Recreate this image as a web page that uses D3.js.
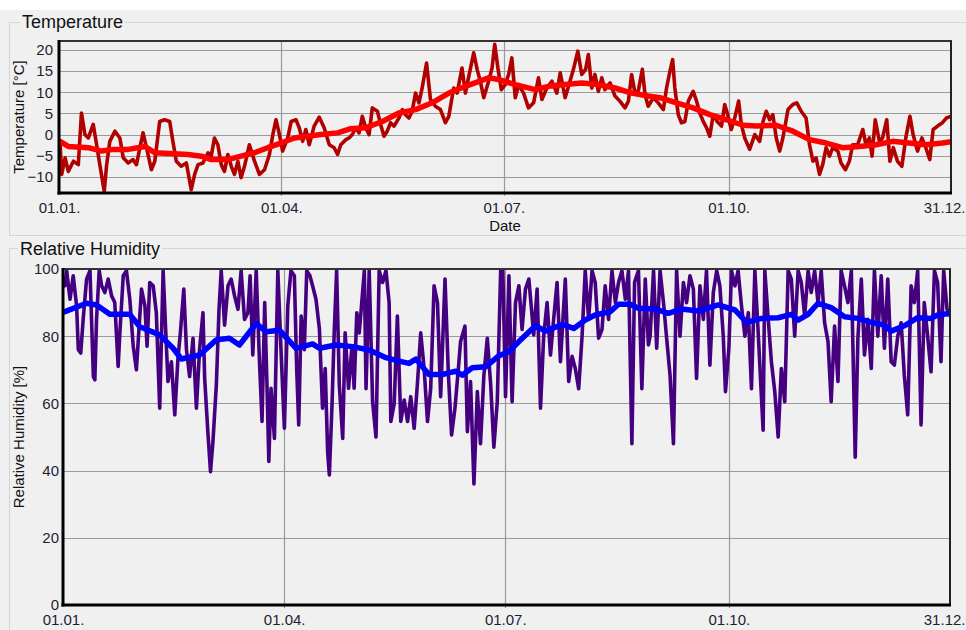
<!DOCTYPE html>
<html>
<head>
<meta charset="utf-8">
<script src="https://cdnjs.cloudflare.com/ajax/libs/d3/7.8.5/d3.min.js"></script>
<style>
    html, body { margin: 0; padding: 0; background: #ffffff; }
    #chart { width: 966px; height: 630px; }
    text { font-family: "Liberation Sans", Arial, sans-serif; }
</style>
</head>
<body>
<div id="chart"></div>
<script>
// climate-viz - temperature and relative humidity over one year (day of year, leap year)

// x axis: day of year where the date labels sit
const xTickDays = [0, 91, 182, 274, 365];
const xTickLabels = ['01.01.', '01.04.', '01.07.', '01.10.', '31.12.'];

const tempTicks = [-10, -5, 0, 5, 10, 15, 20];
const rhTicks = [0, 20, 40, 60, 80, 100];

// measured temperature [day, °C]
const tempRaw = [
    [0.4,-1.6],[1.1,-9.4],[2.5,-5.5],[3.8,-8.7],[5.9,-6.3],[7.9,-7.1],[9.2,5.1],[10.6,0],[12,-0.8],[14,2.4],
    [15.4,-2.4],[16.7,-7.1],[18.5,-13.4],[19.5,-7.1],[20.8,-1.6],[22.9,0.8],[24.9,-0.8],[26.3,-5.5],[28.3,-6.7],[30.3,-5.9],
    [31.7,-7.1],[33.1,-3.1],[34.4,0.4],[35.8,-3.1],[37.8,-8.3],[39.2,-6.3],[41.2,3.1],[43.2,3.5],[45.3,3.1],[46.6,-1.6],
    [48,-6.3],[50,-7.5],[52.1,-6.7],[54.1,-13],[55.5,-9.4],[56.9,-7.1],[58.9,-6.7],[61,-4.3],[62.3,-5.1],[63.6,-0.8],
    [65,-2.4],[66.4,-7.1],[67.7,-8.7],[69.1,-4.7],[70.5,-7.5],[71.8,-9.4],[73.2,-6.3],[74.5,-10.2],[75.9,-7.5],[77.9,-2.4],
    [80,-6.3],[82,-9.4],[84.1,-8.3],[86.1,-4.7],[87.5,0],[88.8,3.5],[90.2,0],[91.5,-3.9],[93.6,-0.8],[95,3.1],
    [97,3.5],[98.3,1.6],[99.7,-1.6],[101,1.2],[102.4,-2.4],[104.4,2],[106.5,4.1],[108.5,1.6],[110.6,-2.4],[112.6,-3.1],
    [114,-4.7],[115.3,-2.4],[117.4,-1.2],
    [118.7,-0.8],[120,0],[121.4,1.6],[122.8,0.4],[124.1,4.3],[125.5,1.6],[126.9,0],[128.2,6.3],[130.3,5.5],[131.6,2.4],
    [133,-0.4],[134.3,0.8],[135.7,2.8],[137.1,2],[139.1,3.9],[140.5,5.9],[141.8,4.7],[143.2,3.9],[144.5,5.5],[145.9,9.8],
    [147.3,7.5],[148.6,11],[150.4,16.9],[152,8.3],[154,6.7],[156.1,5.9],[158.1,2.8],[159.5,4.3],[161.5,11],[162.9,9.8],
    [164.9,15.7],[166.3,9.8],[167.7,13.8],[169.7,19.3],[171.1,15.4],[172.4,12.6],[173.8,8.7],[175.8,12.6],[177.2,15.7],[178.3,21.3],
    [179.6,15.7],[181,10.6],[182.6,11.8],[184,14.2],[185.3,18.1],[186.7,8.7],[188.1,11.8],[190.1,9.8],[192.1,6.3],[194.2,7.5],
    [196.2,13.4],[197.6,8.3],[199.6,11],[201.7,12.6],[203.7,9.8],[205.1,14.6],[207.1,8.7],[209.1,12.6],[210.5,15.4],[212.3,19.7],
    [213.9,14.2],[215.5,15.4],[216.6,18.9],[218,11],[219.3,14.2],[220.7,10.2],[222.1,13.4],[223.4,10.6],[225.5,12.2],[227.5,9.1],
    [229.5,7.9],[231.6,6.3],[233,7.9],[234.3,14.2],[235.7,9.8],[237,10.2],[238.7,15.4],
    [239.8,9.4],[241.1,6.7],[243.2,8.7],[245.2,7.5],[247.3,5.9],[248.6,11],[250,15],[251.1,17.7],[252,11],[253.4,4.7],
    [254.7,2.8],[256.1,3.1],[257.5,7.9],[259.5,10.2],[260.9,7.9],[262.2,5.1],[263.6,3.1],[265,1.6],[266.3,-0.4],[267.7,4.7],
    [269.3,3.1],[271.1,2],[272.4,7.1],[273.8,4.3],[275.1,1.2],[276.5,3.9],[278.1,7.9],[279.2,2.4],[280.6,-0.8],[282.6,-3.5],
    [284.7,0],[286.7,-1.6],[288.1,3.1],[289.4,5.5],[290.8,3.5],[292.1,4.7],[293.5,-0.8],[294.9,-3.9],[296.2,-0.8],[298.3,5.9],
    [300.3,7.1],[301.9,7.5],[303.7,5.5],[305.7,3.9],[307.1,-2.4],[308.5,-6.3],[309.8,-5.5],[311.2,-9.4],[312.5,-7.1],[313.9,-3.1],
    [315.3,-5.1],[316.6,-3.1],[318.7,-3.9],[320,-6.7],[321.8,-8.3],[323.4,-6.3],[324.8,-2.4],[326.8,-2.4],[328.9,1.2],[330.2,-2.4],
    [331.6,-0.8],[332.7,-5.1],[334,3.5],[335.7,-1.6],[337,-0.8],[338.7,3.5],[340,-6.3],[341.4,-3.1],[343.1,-6.3],[344.9,-7.5],
    [346.5,-0.8],[348.2,4.3],[349.5,0],[351.3,-3.9],[353.1,-0.8],[354.7,-3.1],[356.3,-5.9],[357.7,1.2],[359.5,2],[361.5,2.8],
    [363.1,3.9],[365,4.3]
];

// smoothed temperature [day, °C]
const tempSmooth = [
    [0.4,-1.6],[3.8,-2.8],[12,-3.1],[17.4,-3.9],[22.2,-3.5],[28.3,-3.5],[35.1,-2.8],[39.2,-4.3],[52.8,-4.7],[58.2,-5.1],
    [62.3,-5.9],[69.1,-5.9],[74.5,-5.1],[80,-4.3],[85.4,-3.1],[90.8,-2],[96.3,-0.8],[101.7,-0.4],[107.2,0],[114,0.4],
    [119.4,1.4],[125.5,1.6],[132.3,3.1],[139.1,5.1],[145.9,5.9],[152.7,7.5],[159.5,9.8],[166.3,11.4],[175.8,13.4],[179.9,13],
    [186.7,11.8],[194.9,10.6],[200.3,11.4],[207.1,11.8],[213.9,12.2],[220.7,11.8],[227.5,11],[234.3,9.8],[241.1,9.1],[245.9,8.7],
    [252.7,7.5],[259.5,6.3],[266.3,4.7],[273.1,3.5],[279.9,2.2],[285.3,2],[293.5,2.2],[300.3,0.8],[307.1,-1.2],[313.9,-2],
    [320.7,-3.1],[327.5,-2.8],[334.3,-2.4],[341.1,-1.6],[347.9,-2],[354.7,-2.4],[361.5,-2],[365,-1.7]
];

// measured relative humidity [day, %]
const rhRaw = [
    [0,96],[0.8,95],[1.5,99.5],[2.9,91],[4.2,98],[5.6,89],[6.3,76],[7.3,75],[8.3,85],[9.7,97],
    [11.1,99.5],[12.5,68],[13.1,67],[13.8,85],[14.9,99.5],[15.9,95],[17.2,93],[18.6,97],[20,92],[21.3,90],
    [22.7,71],[23.4,81],[24.8,98],[26.1,99.5],[27.5,91],[28.9,77],[30.2,70],[31.6,86],[32.3,94],[33.7,89],
    [34.6,77],[35.7,96],[37.1,95],[38.4,87],[39.8,58.6],[41.2,99.5],[42.3,81],[43.2,66.5],[44.6,72.4],[46,56.6],
    [47.3,73.4],[48.3,81],[49.7,94],[50.8,76],[52.1,68],[53.5,79.4],[54.9,58.6],[56.2,76],[57.6,87],[58.3,67.4],
    [59.6,51.6],[60.7,39.7],[61.7,48.6],[63.1,65.5],[64.2,88],[65.1,99.5],[66.5,83.3],[67.9,95],[69.2,97],[70.6,92],
    [72,88],[73.3,99.5],[74.7,85],[76.1,87],[77,98],[78.1,74.4],[79.5,99.5],[80.8,73.4],[81.9,54.6],[83,90],
    [83.9,66.5],[84.7,42.7],[85.6,64.5],[87,49.6],[88.4,99.5],[89.7,76],[91.1,52.6],[92.5,89],[93.8,99.5],[95.2,98],
    [96.2,69.4],[97,53.6],[98,86],[99.3,76],[100.3,99.5],[101.6,98],[102.7,95],[104.1,91],[105.5,82.3],[106.8,58.6],
    [107.9,70.4],[108.9,45.6],[109.6,38.7],[110.7,59.6],[111.6,81],[112.6,99.5],[113.7,65.5],[115.1,49.6],[116.1,81],[117.5,64.5],
    [118.9,77],[119.8,64.5],[120.9,87],[121.9,81],
    [122.6,87],[124,99.5],[124.7,64.4],[126,99.5],[127.4,60.5],[128.8,50],[130.1,99.5],[131.5,96],[132.9,99.5],[134.2,90],
    [134.9,54.6],[136.3,60],[137.6,86],[139,54.6],[140.4,61],[141.8,54.6],[143.1,62],[144.5,52.6],[145.9,66.5],[147.2,81],
    [148.6,70.4],[150,54.6],[151.3,64.4],[152.7,95],[154.1,90],[155.4,62],[157.2,97],[158.6,68.4],[159.9,50.6],[161.3,58.6],
    [162.7,70.4],[163.6,78.4],[165.4,83],[166.4,51.6],[167.7,66.5],[169.1,36],[170.5,63.5],[171.8,48],[173.2,68.4],[174.6,79.4],
    [176,65.5],[177.3,47],[178.7,60.5],[180.1,99.5],[181,99.5],[182.1,62],[183.5,98],[184.8,60.5],[186.2,90],[187.6,95],
    [188.9,82],[190.3,94],[191.7,97],[193.7,80.4],[195.1,94],[196.5,58.6],[197.8,80],[199.2,90],[200.6,74.4],[201.9,85],
    [203.3,96],[204.7,72.4],[206.7,97],[208.1,66.5],[209.5,74],[210.8,70.4],[212.2,64.4],[213.6,80],[214.9,99.5],[216.3,85],
    [217.7,99.5],[219,96],[220.4,79.4],[221.8,82],[223.1,95],[224.5,85],[225.9,99.5],[227.3,90],[228.6,96],[230,99.5],
    [231.4,91],[232.7,99.5],[234.1,48],[235.2,96],[236.8,99.5],[238.2,64.4],[239.6,97],[240.9,77.4],
    [241.6,80],[243,99.5],[244.3,76.4],[245.7,99.5],[247.1,90],[248.4,79.4],[249.8,68.4],[251.2,48],[252.5,99.5],[253.9,80],
    [255.3,96],[256.6,90],[258,98],[259.4,94],[260.7,67.4],[262.1,95],[263.5,85],[264.8,99.5],[266.2,71.4],[267.6,93],
    [269,99.5],[270.3,95],[271.7,80],[272.6,63.5],[274,76.4],[275.1,99.5],[276.5,95],[277.8,99.5],[279.2,89],[280.6,80],
    [282,87],[283.3,64.4],[284.7,99.5],[286,82],[288.1,52],[288.8,99.5],[290.2,85],[291.5,72.4],[292.9,63.5],[294.3,50],
    [295.6,70.4],[297,60.5],[298.4,99.5],[299.7,97],[301.1,80],[302.5,99.5],[303.8,96],[305.2,86],[306.6,99.5],[307.9,93],
    [309.3,99.5],[310.7,90],[312,99.5],[313.4,84],[314.8,78.4],[316.1,60.5],[317.5,83],[318.9,66.5],[320.2,99.5],[321.6,95],
    [323,90],[324.4,99.5],[326,44],[327.1,79.4],[328.5,97],[329.8,74.4],[331.2,85],[332.6,70.4],[333.9,99.5],[335.3,80],
    [336.7,98],[338,76.4],[339.4,97],[340.8,72.4],[342.1,71.4],[343.5,80],[344.9,84],[346.2,68.4],[347.6,56.6],[349,95],
    [350.3,90],[351.7,99.5],[353.1,53.6],[354.4,90],[355.8,80],[357.2,69.4],[358.6,99.5],[359.9,96],[361.3,72.4],[362.4,99.5],
    [363.8,88],[365,86]
];

// smoothed relative humidity [day, %]
const rhSmooth = [
    [0.8,87.3],[9.7,89.8],[13.8,89.3],[19.3,86.5],[27.5,86.5],[31.6,82.8],[39.8,80.4],[45.3,76.4],[48.7,73.2],[56.2,74.4],
    [63.1,78.9],[68.5,79.4],[72.6,77.4],[79.5,83.8],[83.6,81.3],[89.1,81.8],[95.9,76.4],[102.7,77.7],[105.5,76.4],[112.3,77.4],
    [119.2,76.9],[126,75.9],[132.9,73.6],[138.3,72.6],[142.4,71.9],[145.2,73.2],[150.6,68.6],[156.1,68.6],[161.6,69.6],[164.3,68.4],
    [168.4,70.6],[173.9,70.9],[179.4,74.2],[183.5,75.4],[187.6,78.4],[194.4,83.1],[198.5,81.5],[205.4,83.5],[210.2,82.3],[214.9,84.8],
    [219,86.3],[225.2,87.3],[228.6,89.5],[233.4,89.5],[236.8,88.3],[243.6,88.1],[249.1,86.8],[254.6,88.1],[261.4,87.5],[269.6,89.3],
    [276.5,87.8],[281.3,84.1],[287.4,85.3],[294.3,85.5],[299.7,86.5],[302.5,84.8],[306.6,86.5],[310.7,89.8],[316.1,88.5],[321.6,85.8],
    [327.1,85.3],[332.6,84.1],[338,83.3],[340.8,81.5],[346.2,83.1],[351.7,85.5],[357.2,85.3],[359.9,86.3],[365,86.8]
];

const config = {
    width: 966,
    height: 630,
    background: '#f0f0f0',
    groupLine: '#d4d4d4',
    gridColor: '#9a9a9a',
    textColor: '#1e1e30',
    tickFont: 15,
    titleFont: 18,
    rawWidth: 3.6,   // measured series look heavy in the original
    smoothWidth: 5.5
};

const panels = [
    {
        title: 'Temperature', titleX: 22, titleY: 28,
        box: { x: 9.5, y: 22.5, h: 213 },
        plot: { left: 59, top: 41, right: 951, bottom: 193 },
        yDomain: [-13.8, 22.1], yTicks: tempTicks,
        yTitle: 'Temperature [°C]', xTitle: 'Date',
        raw: tempRaw, smooth: tempSmooth,
        rawColor: '#b00000', smoothColor: '#ff0000'
    },
    {
        title: 'Relative Humidity', titleX: 20, titleY: 255,
        box: { x: 9.5, y: 248.5, h: 400 },
        plot: { left: 63, top: 269, right: 950, bottom: 605 },
        yDomain: [0, 100], yTicks: rhTicks,
        yTitle: 'Relative Humidity [%]', xTitle: null,
        raw: rhRaw, smooth: rhSmooth,
        rawColor: '#440080', smoothColor: '#0000ff'
    }
];

const svg = d3.select('#chart')
    .append('svg')
    .attr('width', config.width)
    .attr('height', config.height)
    .style('display', 'block');

svg.append('rect')
    .attr('width', config.width)
    .attr('height', config.height)
    .attr('fill', config.background);

// thin white strip above the form
svg.append('rect')
    .attr('width', config.width)
    .attr('height', 10)
    .attr('fill', '#ffffff');

panels.forEach((p, idx) => drawPanel(p, idx));

function drawPanel(p, idx) {
    const { left, top, right, bottom } = p.plot;

    const x = d3.scaleLinear().domain([0, 365]).range([left, right]);
    const y = d3.scaleLinear().domain(p.yDomain).range([bottom, top]);

    const g = svg.append('g').attr('class', 'panel');

    // group box with its caption
    g.append('rect')
        .attr('x', p.box.x)
        .attr('y', p.box.y)
        .attr('width', config.width + 20)
        .attr('height', p.box.h)
        .attr('fill', 'none')
        .attr('stroke', config.groupLine);

    const caption = g.append('text')
        .attr('x', p.titleX)
        .attr('y', p.titleY)
        .attr('font-size', config.titleFont)
        .attr('fill', '#111')
        .text(p.title);
    const capW = caption.node().getComputedTextLength();
    g.insert('rect', 'text')
        .attr('x', p.titleX - 2)
        .attr('y', p.box.y - 2)
        .attr('width', capW + 4)
        .attr('height', 4)
        .attr('fill', config.background);

    // grid lines
    g.append('g')
        .selectAll('line')
        .data(p.yTicks)
        .enter()
        .append('line')
        .attr('x1', left)
        .attr('x2', right)
        .attr('y1', d => Math.round(y(d)) + 0.5)
        .attr('y2', d => Math.round(y(d)) + 0.5)
        .attr('stroke', config.gridColor)
        .attr('stroke-width', 1.2);

    g.append('g')
        .selectAll('line')
        .data(xTickDays.slice(1, -1))
        .enter()
        .append('line')
        .attr('x1', d => Math.round(x(d)) + 0.5)
        .attr('x2', d => Math.round(x(d)) + 0.5)
        .attr('y1', top)
        .attr('y2', bottom + 3)
        .attr('stroke', config.gridColor)
        .attr('stroke-width', 1.2);

    // series, clipped to the plot area
    const clipId = 'clip-' + idx;
    svg.append('defs').append('clipPath')
        .attr('id', clipId)
        .append('rect')
        .attr('x', left)
        .attr('y', top)
        .attr('width', right - left)
        .attr('height', bottom - top);

    const line = d3.line()
        .x(d => x(d[0]))
        .y(d => y(d[1]));

    const series = g.append('g').attr('clip-path', `url(#${clipId})`);

    series.append('path')
        .datum(p.raw)
        .attr('d', line)
        .attr('fill', 'none')
        .attr('stroke', p.rawColor)
        .attr('stroke-width', config.rawWidth)
        .attr('stroke-linejoin', 'round');

    series.append('path')
        .datum(p.smooth)
        .attr('d', line)
        .attr('fill', 'none')
        .attr('stroke', p.smoothColor)
        .attr('stroke-width', config.smoothWidth)
        .attr('stroke-linejoin', 'round')
        .attr('stroke-linecap', 'round');

    // frame: heavy left/bottom, lighter top/right
    g.append('line')
        .attr('x1', left).attr('x2', right + 1)
        .attr('y1', top).attr('y2', top)
        .attr('stroke', '#333').attr('stroke-width', 2);
    g.append('line')
        .attr('x1', right).attr('x2', right)
        .attr('y1', top).attr('y2', bottom)
        .attr('stroke', '#222').attr('stroke-width', 2);
    g.append('line')
        .attr('x1', left).attr('x2', left)
        .attr('y1', top - 1).attr('y2', bottom + 1.5)
        .attr('stroke', '#000').attr('stroke-width', 3);
    g.append('line')
        .attr('x1', left - 1.5).attr('x2', right + 1)
        .attr('y1', bottom).attr('y2', bottom)
        .attr('stroke', '#000').attr('stroke-width', 3);

    // axes
    const yAxis = d3.axisLeft(y)
        .tickValues(p.yTicks)
        .tickSize(0)
        .tickPadding(idx === 0 ? 6 : 4);
    const ya = g.append('g')
        .attr('transform', `translate(${left},0)`)
        .call(yAxis);
    ya.select('.domain').remove();
    ya.selectAll('text')
        .attr('font-size', config.tickFont)
        .attr('font-family', '"Liberation Sans", Arial, sans-serif')
        .attr('fill', config.textColor);

    const xAxis = d3.axisBottom(x)
        .tickValues(xTickDays)
        .tickFormat((d, i) => xTickLabels[i])
        .tickSize(0)
        .tickPadding(9);
    const xa = g.append('g')
        .attr('transform', `translate(0,${bottom})`)
        .call(xAxis);
    xa.select('.domain').remove();
    xa.selectAll('text')
        .attr('font-size', config.tickFont)
        .attr('font-family', '"Liberation Sans", Arial, sans-serif')
        .attr('fill', config.textColor);
    // last label is pushed inside the window edge
    xa.selectAll('.tick').filter((d, i) => i === xTickDays.length - 1)
        .select('text')
        .attr('text-anchor', 'end')
        .attr('x', config.width - 1 - x(365));

    // axis titles
    g.append('text')
        .attr('transform', `translate(24,${(top + bottom) / 2}) rotate(-90)`)
        .attr('text-anchor', 'middle')
        .attr('font-size', config.tickFont)
        .attr('fill', '#111')
        .text(p.yTitle);

    if (p.xTitle) {
        g.append('text')
            .attr('x', (left + right) / 2)
            .attr('y', bottom + 38)
            .attr('text-anchor', 'middle')
            .attr('font-size', config.tickFont)
            .attr('fill', '#111')
            .text(p.xTitle);
    }
}
</script>
</body>
</html>
